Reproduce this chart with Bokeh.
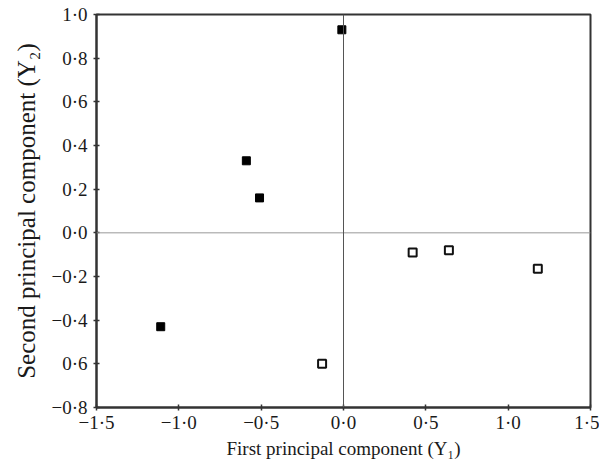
from bokeh.plotting import figure
from bokeh.models import Span, FixedTicker
from bokeh.embed import file_html
from bokeh.resources import INLINE

# Data
filled_x = [-0.01, -0.59, -0.51, -1.11]
filled_y = [0.93, 0.33, 0.16, -0.43]
open_x = [-0.13, 0.42, 0.64, 1.18]
open_y = [-0.60, -0.09, -0.08, -0.165]

x_ticks = [-1.5, -1.0, -0.5, 0.0, 0.5, 1.0, 1.5]
x_tick_labels = ["\u22121\u00b75", "\u22121\u00b70", "\u22120\u00b75", "0\u00b70", "0\u00b75", "1\u00b70", "1\u00b75"]
y_ticks = [-0.8, -0.6, -0.4, -0.2, 0.0, 0.2, 0.4, 0.6, 0.8, 1.0]
y_tick_labels = ["\u22120\u00b78", "0\u00b76", "\u22120\u00b74", "\u22120\u00b72", "0\u00b70",
                 "0\u00b72", "0\u00b74", "0\u00b76", "0\u00b78", "1\u00b70"]

FONT = "Liberation Serif"

p = figure(
    frame_width=494, frame_height=393,
    x_range=(-1.5, 1.5), y_range=(-0.8, 1.0),
    output_backend="svg", toolbar_location=None,
    min_border_left=96, min_border_right=9, min_border_top=14, min_border_bottom=49,
)

p.grid.visible = False
p.outline_line_color = "#333333"
p.outline_line_width = 2
p.background_fill_color = "white"
p.border_fill_color = "white"

p.add_layout(Span(location=0, dimension="width", line_color="#999999", line_width=1))
p.add_layout(Span(location=0, dimension="height", line_color="#555555", line_width=1))

p.scatter(filled_x, filled_y, marker="square", size=8, fill_color="black", line_color="black")
p.scatter(open_x, open_y, marker="square", size=8, fill_color="white", line_color="#111111", line_width=2)

for ax in (p.xaxis[0], p.yaxis[0]):
    ax.axis_line_color = "#333333"
    ax.axis_line_width = 2
    ax.major_tick_line_color = "#333333"
    ax.major_tick_line_width = 1.5
    ax.major_tick_out = 3
    ax.major_tick_in = 3
    ax.minor_tick_line_color = None
    ax.major_label_text_font = FONT
    ax.major_label_text_font_size = "19px"
    ax.major_label_text_color = "#1a1a1a"
    ax.axis_label_text_font = FONT
    ax.axis_label_text_font_style = "normal"
    ax.axis_label_text_color = "#1a1a1a"

p.xaxis.axis_label_text_font_size = "19px"
p.yaxis.axis_label_text_font_size = "25px"

p.xaxis.ticker = FixedTicker(ticks=x_ticks)
p.xaxis.major_label_overrides = dict(zip(x_ticks, x_tick_labels))
p.yaxis.ticker = FixedTicker(ticks=y_ticks)
p.yaxis.major_label_overrides = dict(zip(y_ticks, y_tick_labels))

p.xaxis.axis_label = "First principal component (Y\u2081)"
p.yaxis.axis_label = "Second principal component (Y\u2082)"
p.xaxis.major_label_standoff = 1
p.xaxis.axis_label_standoff = 2
p.yaxis.major_label_standoff = 6
p.yaxis.axis_label_standoff = 8

open("out.html", "w").write(file_html(p, INLINE))
